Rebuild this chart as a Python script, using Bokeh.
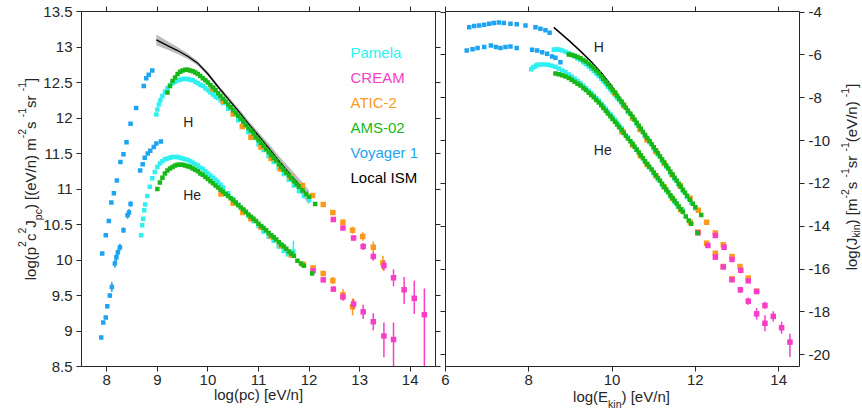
import math

from bokeh.embed import file_html
from bokeh.models import (CustomJSTickFormatter, FixedTicker, Label, LinearAxis,
                          Range1d)
from bokeh.plotting import figure
from bokeh.resources import INLINE

FONT = "Liberation Sans"
INK = "#262626"
C_PAMELA = "#2ff0f0"
C_CREAM = "#f83ec8"
C_ATIC = "#fb9a1c"
C_AMS = "#17b817"
C_VOY = "#1ea4f0"
C_ISM = "#000000"
C_BAND = "#bcbcbc"

# ---------------------------------------------------------------------------
# Left panel: x = log10(pc) [eV/n], y = log10(p^2 c^2 J_pc)
# ---------------------------------------------------------------------------
pc_voy_h = [7.91, 7.98, 8.04, 8.09, 8.14, 8.20, 8.27, 8.33, 8.39, 8.47,
            8.58, 8.73, 8.78, 8.83, 8.90]
f_voy_h = [10.09, 10.35, 10.55, 10.81, 10.94, 11.12, 11.38, 11.49, 11.66, 11.92,
           12.14, 12.45, 12.56, 12.61, 12.67]

pc_voy_he = [7.89, 7.93, 7.98, 8.01, 8.06, 8.10, 8.16, 8.19, 8.22, 8.26, 8.33,
             8.41, 8.44, 8.47, 8.66, 8.71, 8.75, 8.81, 8.86, 8.93, 8.98, 9.07]
f_voy_he = [8.91, 9.12, 9.19, 9.35, 9.50, 9.62, 9.95, 10.04, 10.11, 10.18, 10.42,
            10.63, 10.67, 10.79, 11.26, 11.35, 11.44, 11.50, 11.54, 11.59, 11.64, 11.67]
e_voy_he = [0.02, 0.02, 0.02, 0.03, 0.03, 0.07, 0.06, 0.06, 0.05, 0.05, 0.04,
            0.05, 0.05, 0.04, 0.02, 0.02, 0.02, 0.02, 0.02, 0.02, 0.02, 0.02]

pc_pam_h = [8.98, 9.00, 9.03, 9.06, 9.10, 9.15, 9.20, 9.25, 9.30, 9.35, 9.40, 9.45,
            9.50, 9.55, 9.60, 9.65, 9.70, 9.75, 9.80, 9.85, 9.90, 9.95, 10.00, 10.05,
            10.10, 10.15, 10.20, 10.25, 10.30, 10.40, 10.50, 10.60, 10.70, 10.80,
            10.90, 11.00, 11.10, 11.20, 11.30, 11.40, 11.50, 11.60, 11.70, 11.80,
            11.90, 12.00]
f_pam_h = [12.05, 12.12, 12.19, 12.25, 12.31, 12.37, 12.42, 12.46, 12.49, 12.51, 12.53,
           12.54, 12.55, 12.55, 12.55, 12.54, 12.53, 12.51, 12.49, 12.47, 12.45, 12.42,
           12.39, 12.36, 12.33, 12.30, 12.28, 12.25, 12.21, 12.13, 12.05, 11.97, 11.89,
           11.80, 11.72, 11.63, 11.55, 11.46, 11.38, 11.29, 11.21, 11.13, 11.05, 10.97,
           10.90, 10.84]

pc_pam_he = [8.68, 8.70, 8.72, 8.74, 8.76, 8.80, 8.85, 8.90, 8.95, 9.00, 9.05, 9.10,
             9.15, 9.20, 9.25, 9.30, 9.35, 9.40, 9.45, 9.50, 9.55, 9.60, 9.65, 9.70,
             9.75, 9.80, 9.85, 9.90, 9.95, 10.00, 10.05, 10.10, 10.15, 10.20, 10.25,
             10.30, 10.40, 10.50, 10.60, 10.70, 10.80, 10.90, 11.00, 11.10, 11.20,
             11.30, 11.40, 11.50, 11.58, 11.69]
f_pam_he = [10.35, 10.49, 10.58, 10.70, 10.78, 10.90, 11.03, 11.15, 11.24, 11.31,
            11.36, 11.39, 11.42, 11.43, 11.44, 11.45, 11.45, 11.45, 11.44, 11.43,
            11.42, 11.41, 11.39, 11.37, 11.35, 11.33, 11.30, 11.28, 11.25, 11.22,
            11.19, 11.16, 11.13, 11.10, 11.06, 11.02, 10.94, 10.86, 10.78, 10.70,
            10.62, 10.55, 10.48, 10.40, 10.33, 10.27, 10.19, 10.13, 10.08, 10.12]
pam_he_bar_pc = [11.69]
pam_he_bar_f = [10.12]
pam_he_bar_lo = [0.08]
pam_he_bar_hi = [0.15]

pc_ams_h = [9.20, 9.25, 9.30, 9.35, 9.40, 9.45, 9.50, 9.55, 9.60, 9.65, 9.70, 9.75,
            9.80, 9.85, 9.90, 9.95, 10.00, 10.05, 10.10, 10.15, 10.20, 10.25, 10.30,
            10.35, 10.40, 10.45, 10.50, 10.55, 10.60, 10.65, 10.70, 10.75, 10.80,
            10.85, 10.90, 10.95, 11.00, 11.05, 11.10, 11.15, 11.20, 11.25, 11.30,
            11.35, 11.40, 11.45, 11.50, 11.55, 11.60, 11.65, 11.70, 11.75, 11.80,
            11.87, 11.94, 12.00, 12.12]
f_ams_h = [12.36, 12.45, 12.52, 12.57, 12.62, 12.65, 12.67, 12.68, 12.68, 12.67,
           12.66, 12.64, 12.62, 12.59, 12.56, 12.53, 12.50, 12.46, 12.43, 12.39,
           12.35, 12.31, 12.27, 12.23, 12.19, 12.15, 12.11, 12.07, 12.03, 11.99,
           11.95, 11.90, 11.86, 11.82, 11.78, 11.73, 11.69, 11.65, 11.61, 11.56,
           11.52, 11.48, 11.44, 11.40, 11.35, 11.31, 11.27, 11.23, 11.19, 11.15,
           11.11, 11.07, 11.03, 10.98, 10.93, 10.89, 10.79]

pc_ams_he = [9.00, 9.05, 9.10, 9.15, 9.20, 9.25, 9.30, 9.35, 9.40, 9.45, 9.50, 9.55,
             9.60, 9.65, 9.70, 9.75, 9.80, 9.85, 9.90, 9.95, 10.00, 10.05, 10.10,
             10.15, 10.20, 10.25, 10.30, 10.35, 10.40, 10.45, 10.50, 10.55, 10.60,
             10.65, 10.70, 10.75, 10.80, 10.85, 10.90, 10.95, 11.00, 11.05, 11.10,
             11.15, 11.20, 11.25, 11.30, 11.35, 11.40, 11.45, 11.50, 11.55, 11.60,
             11.65, 11.70, 11.77, 11.84, 11.90, 12.06]
f_ams_he = [11.00, 11.09, 11.16, 11.22, 11.26, 11.29, 11.31, 11.33, 11.34, 11.34,
            11.34, 11.33, 11.32, 11.31, 11.29, 11.27, 11.25, 11.22, 11.20, 11.17,
            11.14, 11.11, 11.08, 11.05, 11.02, 10.99, 10.96, 10.93, 10.90, 10.87,
            10.84, 10.81, 10.77, 10.74, 10.71, 10.68, 10.64, 10.61, 10.58, 10.55,
            10.51, 10.48, 10.45, 10.42, 10.38, 10.35, 10.32, 10.29, 10.25, 10.22,
            10.19, 10.16, 10.12, 10.09, 10.06, 9.99, 9.95, 9.92, 9.81]

pc_atic_h = [10.10, 10.30, 10.50, 10.68, 10.85, 11.05, 11.25, 11.44, 11.64, 11.87,
             12.07, 12.28, 12.47, 12.67, 12.86, 13.06, 13.27, 13.46]
f_atic_h = [12.41, 12.24, 12.06, 11.88, 11.73, 11.59, 11.43, 11.28, 11.17, 11.05,
            10.91, 10.78, 10.67, 10.53, 10.42, 10.33, 10.18, 9.96]
e_atic_h = [0.02, 0.02, 0.02, 0.02, 0.02, 0.02, 0.02, 0.02, 0.02, 0.02,
            0.02, 0.03, 0.03, 0.04, 0.05, 0.06, 0.08, 0.10]

pc_atic_he = [10.26, 10.50, 10.69, 10.85, 11.05, 11.25, 11.45, 11.65, 11.88, 12.08,
              12.28, 12.47, 12.67, 12.86]
f_atic_he = [10.93, 10.80, 10.67, 10.58, 10.46, 10.33, 10.20, 10.07, 9.94, 9.89,
             9.81, 9.71, 9.51, 9.34]
e_atic_he = [0.02, 0.02, 0.02, 0.02, 0.02, 0.02, 0.02, 0.02, 0.02, 0.03,
             0.04, 0.05, 0.08, 0.12]

pc_cream_h = [12.48, 12.67, 12.88, 13.07, 13.27, 13.48, 13.67, 13.88, 14.08, 14.28]
f_cream_h = [10.57, 10.45, 10.31, 10.19, 10.05, 9.92, 9.75, 9.58, 9.46, 9.23]
lo_cream_h = [0.03, 0.03, 0.04, 0.05, 0.06, 0.07, 0.12, 0.20, 0.22, 0.80]
hi_cream_h = [0.03, 0.03, 0.04, 0.05, 0.06, 0.07, 0.12, 0.18, 0.25, 0.37]

pc_cream_he = [12.08, 12.28, 12.48, 12.67, 12.88, 13.07, 13.27, 13.48, 13.67]
f_cream_he = [9.85, 9.72, 9.59, 9.48, 9.38, 9.27, 9.13, 8.93, 8.88]
lo_cream_he = [0.03, 0.03, 0.04, 0.05, 0.07, 0.10, 0.12, 0.30, 0.50]
hi_cream_he = [0.03, 0.03, 0.04, 0.05, 0.07, 0.10, 0.12, 0.19, 0.24]

pc_ism = [8.98, 9.20, 9.40, 9.60, 9.80, 10.00, 10.20, 10.40, 10.60, 10.80, 11.00,
          11.20, 11.40, 11.60, 11.80, 12.00]
f_ism = [13.10, 13.02, 12.95, 12.87, 12.77, 12.62, 12.44, 12.27, 12.10, 11.92, 11.75,
         11.58, 11.40, 11.23, 11.06, 10.88]
w_ism = [0.075, 0.06, 0.05, 0.04, 0.03, 0.03, 0.03, 0.035, 0.04, 0.045, 0.05,
         0.06, 0.07, 0.08, 0.09, 0.10]

# ---------------------------------------------------------------------------
# Right panel: x = log10(E_kin) [eV/n], y = log10(J_kin)
# ---------------------------------------------------------------------------
ek_voy_h = [6.57, 6.69, 6.81, 6.93, 7.05, 7.16, 7.28, 7.40, 7.56, 7.71,
            7.92, 8.16, 8.28, 8.40, 8.50]
j_voy_h = [-4.70, -4.65, -4.62, -4.59, -4.54, -4.51, -4.48, -4.51, -4.54, -4.57,
           -4.62, -4.70, -4.78, -4.85, -4.96]

ek_voy_he = [6.51, 6.65, 6.77, 6.93, 7.09, 7.21, 7.32, 7.44, 7.56, 7.71,
             8.08, 8.20, 8.32, 8.44, 8.56, 8.64, 8.76]
j_voy_he = [-5.79, -5.73, -5.68, -5.63, -5.56, -5.63, -5.68, -5.63, -5.60, -5.68,
            -5.76, -5.79, -5.87, -5.94, -6.07, -6.13, -6.34]

ek_pam_h = [8.60, 8.64, 8.69, 8.74, 8.80, 8.88, 8.96, 9.03, 9.10, 9.17, 9.24, 9.31,
            9.37, 9.44, 9.50, 9.56, 9.62, 9.68, 9.74, 9.79, 9.85, 9.90, 9.96, 10.01,
            10.07, 10.12, 10.17, 10.23, 10.28, 10.38, 10.49, 10.59, 10.69, 10.79,
            10.90, 11.00, 11.10, 11.20, 11.30, 11.40, 11.50, 11.60, 11.70, 11.80,
            11.90, 12.00]
j_pam_h = [-5.76, -5.74, -5.75, -5.76, -5.79, -5.85, -5.92, -5.99, -6.07, -6.16,
           -6.24, -6.34, -6.43, -6.54, -6.64, -6.75, -6.86, -6.98, -7.11, -7.23,
           -7.35, -7.48, -7.61, -7.74, -7.87, -8.00, -8.12, -8.25, -8.39, -8.67,
           -8.95, -9.23, -9.51, -9.80, -10.08, -10.37, -10.65, -10.94, -11.22,
           -11.51, -11.79, -12.07, -12.35, -12.63, -12.90, -13.16]

ek_pam_he = [8.06, 8.10, 8.14, 8.18, 8.21, 8.29, 8.38, 8.47, 8.55, 8.64, 8.72, 8.80,
             8.88, 8.96, 9.03, 9.10, 9.17, 9.24, 9.31, 9.37, 9.44, 9.50, 9.56, 9.62,
             9.68, 9.74, 9.79, 9.85, 9.90, 9.96, 10.01, 10.07, 10.12, 10.17, 10.23,
             10.28, 10.38, 10.49, 10.59, 10.69, 10.79, 10.89, 11.00, 11.10, 11.20,
             11.30, 11.40, 11.50, 11.58, 11.69]
j_pam_he = [-6.67, -6.59, -6.55, -6.49, -6.46, -6.45, -6.45, -6.46, -6.50, -6.55,
            -6.63, -6.72, -6.80, -6.91, -7.01, -7.11, -7.22, -7.32, -7.44, -7.55,
            -7.67, -7.78, -7.90, -8.02, -8.14, -8.27, -8.40, -8.52, -8.65, -8.78,
            -8.91, -9.04, -9.17, -9.30, -9.44, -9.58, -9.86, -10.14, -10.42, -10.70,
            -10.98, -11.25, -11.52, -11.80, -12.07, -12.33, -12.61, -12.87, -13.08,
            -13.26]

ek_ams_h = [8.96, 9.03, 9.10, 9.17, 9.24, 9.31, 9.37, 9.44, 9.50, 9.56, 9.62, 9.68,
            9.74, 9.79, 9.85, 9.90, 9.96, 10.01, 10.07, 10.12, 10.17, 10.23, 10.28,
            10.33, 10.38, 10.44, 10.49, 10.54, 10.59, 10.64, 10.69, 10.74, 10.79,
            10.84, 10.90, 10.95, 11.00, 11.05, 11.10, 11.15, 11.20, 11.25, 11.30,
            11.35, 11.40, 11.45, 11.50, 11.55, 11.60, 11.65, 11.70, 11.75, 11.80,
            11.87, 11.94, 12.00, 12.14]
j_ams_h = [-5.98, -6.00, -6.04, -6.10, -6.15, -6.23, -6.31, -6.41, -6.51, -6.62,
           -6.73, -6.85, -6.98, -7.11, -7.24, -7.37, -7.50, -7.64, -7.77, -7.91,
           -8.05, -8.19, -8.33, -8.47, -8.61, -8.75, -8.89, -9.03, -9.17, -9.31,
           -9.45, -9.60, -9.74, -9.88, -10.02, -10.17, -10.31, -10.45, -10.59,
           -10.74, -10.88, -11.02, -11.16, -11.30, -11.45, -11.59, -11.73, -11.87,
           -12.01, -12.15, -12.29, -12.43, -12.57, -12.76, -12.95, -13.11, -13.47]

ek_ams_he = [8.64, 8.72, 8.80, 8.88, 8.96, 9.03, 9.10, 9.17, 9.24, 9.31, 9.37, 9.44,
             9.50, 9.56, 9.62, 9.68, 9.74, 9.79, 9.85, 9.90, 9.96, 10.01, 10.07,
             10.12, 10.17, 10.23, 10.28, 10.33, 10.38, 10.44, 10.49, 10.54, 10.59,
             10.64, 10.69, 10.74, 10.79, 10.84, 10.89, 10.95, 11.00, 11.05, 11.10,
             11.15, 11.20, 11.25, 11.30, 11.35, 11.40, 11.45, 11.50, 11.55, 11.60,
             11.65, 11.70, 11.77, 11.84, 11.90, 12.06]
j_ams_he = [-6.86, -6.90, -6.95, -7.00, -7.08, -7.16, -7.25, -7.34, -7.43, -7.54,
            -7.64, -7.76, -7.87, -7.98, -8.10, -8.22, -8.35, -8.48, -8.60, -8.73,
            -8.86, -8.99, -9.12, -9.25, -9.38, -9.51, -9.64, -9.77, -9.90, -10.03,
            -10.16, -10.29, -10.43, -10.56, -10.69, -10.82, -10.96, -11.09, -11.22,
            -11.35, -11.49, -11.62, -11.75, -11.88, -12.02, -12.15, -12.28, -12.41,
            -12.55, -12.68, -12.81, -12.94, -13.08, -13.21, -13.34, -13.55, -13.73,
            -13.88, -14.31]

ek_atic_h = [10.07, 10.28, 10.49, 10.67, 10.84, 11.05, 11.25, 11.44, 11.64, 11.87,
             12.07, 12.27, 12.48, 12.67, 12.88, 13.07, 13.27, 13.47]
j_atic_h = [-7.79, -8.36, -8.94, -9.48, -9.97, -10.51, -11.07, -11.60, -12.11, -12.69,
            -13.25, -13.81, -14.32, -14.86, -15.41, -15.88, -16.42, -17.03]
ej_atic_h = [0.02, 0.02, 0.02, 0.02, 0.02, 0.02, 0.02, 0.02, 0.02, 0.02,
             0.02, 0.03, 0.03, 0.04, 0.05, 0.06, 0.08, 0.10]

ek_atic_he = [10.24, 10.49, 10.68, 10.84, 11.05, 11.25, 11.45, 11.65, 11.88, 12.06,
              12.27, 12.48, 12.67, 12.88]
j_atic_he = [-9.59, -10.20, -10.71, -11.12, -11.64, -12.17, -12.70, -13.23, -13.81,
             -14.27, -14.79, -15.26, -15.88, -16.45]
ej_atic_he = [0.02, 0.02, 0.02, 0.02, 0.02, 0.02, 0.02, 0.02, 0.02, 0.03,
              0.04, 0.05, 0.08, 0.12]

ek_cream_h = [12.48, 12.69, 12.88, 13.09, 13.27, 13.47, 13.67, 13.87, 14.07, 14.27]
j_cream_h = [-14.43, -14.98, -15.55, -16.06, -16.55, -17.05, -17.70, -18.21, -18.74,
             -19.41]
jlo_cream_h = [0.03, 0.03, 0.04, 0.05, 0.06, 0.08, 0.17, 0.24, 0.28, 0.70]
jhi_cream_h = [0.03, 0.03, 0.04, 0.05, 0.06, 0.08, 0.17, 0.24, 0.28, 0.39]

ek_cream_he = [12.06, 12.30, 12.48, 12.67, 12.88, 13.08, 13.27, 13.47, 13.67]
j_cream_he = [-14.30, -14.90, -15.44, -15.90, -16.50, -16.97, -17.50, -18.09, -18.53]
ej_cream_he = [0.03, 0.03, 0.04, 0.06, 0.08, 0.14, 0.17, 0.27, 0.37]

ek_ism = [8.60, 8.96, 9.24, 9.50, 9.74, 9.96, 10.17, 10.38, 10.59, 10.79, 11.00,
          11.20, 11.40, 11.60, 11.80, 12.00]
j_ism = [-4.71, -5.32, -5.82, -6.32, -6.83, -7.38, -7.96, -8.53, -9.10, -9.68,
         -10.25, -10.82, -11.40, -11.97, -12.54, -13.12]

# tick positions
left_xticks = [8, 9, 10, 11, 12, 13, 14]
left_yticks = [8.5, 9, 9.5, 10, 10.5, 11, 11.5, 12, 12.5, 13, 13.5]
right_xticks = [6, 8, 10, 12, 14]
right_yticks = [-20, -18, -16, -14, -12, -10, -8, -6, -4]

legend_names = ["Pamela", "CREAM", "ATIC-2", "AMS-02", "Voyager 1", "Local ISM"]
legend_colors = [C_PAMELA, C_CREAM, C_ATIC, C_AMS, C_VOY, C_ISM]

# ---------------------------------------------------------------------------
# page geometry: one canvas, two plot boxes placed inside it (pixels)
# ---------------------------------------------------------------------------
W, H = 862, 413
BOX_TOP, BOX_H = 11, 355
L_LEFT, R_LEFT = 81, 445          # left edges of the two boxes
BOX_W = 354
LX, LY = (7.5, 14.5), (8.5, 13.5)
RX, RY = (6.0, 14.5), (-20.55, -3.97)


def canvas_range(lo, hi, px_lo, px_len, total, flip=False):
    """Range that spans the whole canvas so that [lo, hi] lands on the box."""
    per_px = (hi - lo) / px_len
    if not flip:
        start = lo - px_lo * per_px
        return start, start + total * per_px
    end = hi + px_lo * per_px
    return end - total * per_px, end


lxr = canvas_range(*LX, L_LEFT, BOX_W, W)
lyr = canvas_range(*LY, BOX_TOP, BOX_H, H, flip=True)
rxr = canvas_range(*RX, R_LEFT, BOX_W, W)
ryr = canvas_range(*RY, BOX_TOP, BOX_H, H, flip=True)


def px_to_left(gx, gy):
    x = lxr[0] + gx / W * (lxr[1] - lxr[0])
    y = lyr[1] - gy / H * (lyr[1] - lyr[0])
    return x, y


# Arial / Liberation Sans advance widths (per 1000 em)
ADV = {" ": 278, "(": 333, ")": 333, "[": 278, "]": 278, "/": 278, "-": 333,
       "1": 556, "2": 556, "a": 556, "c": 500, "e": 556, "g": 556, "i": 222,
       "k": 500, "l": 222, "m": 833, "n": 556, "o": 556, "p": 556, "r": 333,
       "s": 500, "E": 667, "J": 500, "V": 667}


def text_width(s, size):
    return sum(ADV.get(ch, 556) for ch in s) * size / 1000.0


p = figure(width=W, height=H, x_range=Range1d(*lxr), y_range=Range1d(*lyr),
           output_backend="svg", toolbar_location=None,
           x_axis_location=None, y_axis_location=None,
           min_border=0, min_border_left=0, min_border_right=0,
           min_border_top=0, min_border_bottom=0)
p.extra_x_ranges = {"r": Range1d(*rxr)}
p.extra_y_ranges = {"r": Range1d(*ryr)}
p.xgrid.visible = False
p.ygrid.visible = False
p.outline_line_color = None
p.background_fill_color = "white"
p.border_fill_color = "white"


def box_axis(side, loc, bounds, ticks, show_labels, rng=None):
    kw = {}
    if rng:
        kw = dict(x_range_name=rng, y_range_name=rng)
    ax = LinearAxis(fixed_location=loc, bounds=bounds, **kw)
    ax.ticker = FixedTicker(ticks=ticks)
    ax.formatter = CustomJSTickFormatter(code="return String(tick);")
    ax.axis_line_color = INK
    ax.axis_line_width = 1
    ax.major_tick_line_color = INK
    ax.major_tick_line_width = 1
    ax.major_tick_out = 5
    ax.major_tick_in = 0
    ax.minor_tick_line_color = None
    ax.minor_tick_out = 0
    ax.minor_tick_in = 0
    if show_labels:
        ax.major_label_text_font = FONT
        ax.major_label_text_font_size = "15px"
        ax.major_label_text_color = INK
        ax.major_label_standoff = 3 if side in ("below", "above") else 4
    else:
        ax.major_label_text_font_size = "0px"
        ax.major_label_text_color = None
        ax.major_label_standoff = 0
    p.add_layout(ax, side)


# left box
box_axis("below", LY[0], LX, left_xticks, True)
box_axis("above", LY[1], LX, left_xticks, False)
box_axis("left", LX[0], LY, left_yticks, True)
box_axis("right", LX[1], LY, left_yticks, False)
# right box
box_axis("below", RY[0], RX, right_xticks, True, "r")
box_axis("above", RY[1], RX, right_xticks, False, "r")
box_axis("left", RX[0], RY, right_yticks, False, "r")
box_axis("right", RX[1], RY, right_yticks, True, "r")


def markers(xs, ys, color, size, rng=None):
    kw = dict(x_range_name=rng, y_range_name=rng) if rng else {}
    p.scatter(x=xs, y=ys, marker="square", size=size, fill_color=color,
              line_color=None, **kw)


def errbars(xs, ys, lo, hi, color, floor, rng=None):
    kw = dict(x_range_name=rng, y_range_name=rng) if rng else {}
    p.segment(x0=xs, y0=[max(y - d, floor) for y, d in zip(ys, lo)],
              x1=xs, y1=[y + d for y, d in zip(ys, hi)],
              line_color=color, line_width=1.5, **kw)


def label(gx, gy, text, size, color=INK, align="left", angle=0.0):
    x, y = px_to_left(gx, gy)
    p.add_layout(Label(x=x, y=y, text=text, angle=angle, text_font=FONT,
                       text_font_size=f"{size}px", text_color=color,
                       text_align=align, text_baseline="alphabetic"))


def rich_vertical(pieces, base_x, center_y, main=15, small=10.5, sup=8, sub=7):
    total = sum(text_width(t, main if k == "n" else small) for t, k in pieces)
    gy = center_y + total / 2
    for t, k in pieces:
        size = main if k == "n" else small
        off = {"n": 0, "sup": -sup, "sub": sub}[k]
        label(base_x + off, gy, t, size, angle=math.pi / 2)
        gy -= text_width(t, size)


def rich_horizontal(pieces, center_x, base_y, main=15, small=10.5, sup=8, sub=8):
    total = sum(text_width(t, main if k == "n" else small) for t, k in pieces)
    gx = center_x - total / 2
    for t, k in pieces:
        size = main if k == "n" else small
        off = {"n": 0, "sup": -sup, "sub": sub}[k]
        label(gx, base_y + off, t, size)
        gx += text_width(t, size)


# ---------------------------------------------------------------------------
# left panel: p^2 c^2 J versus pc
# ---------------------------------------------------------------------------
p.varea(x=pc_ism, y1=[f - w for f, w in zip(f_ism, w_ism)],
        y2=[f + w for f, w in zip(f_ism, w_ism)], fill_color=C_BAND, fill_alpha=1.0)
p.line(x=pc_ism, y=f_ism, line_color=C_ISM, line_width=1.3)

errbars(pc_voy_he, f_voy_he, e_voy_he, e_voy_he, C_VOY, LY[0])
markers(pc_voy_h, f_voy_h, C_VOY, 4.5)
markers(pc_voy_he, f_voy_he, C_VOY, 4.5)

errbars(pam_he_bar_pc, pam_he_bar_f, pam_he_bar_lo, pam_he_bar_hi, C_PAMELA, LY[0])
markers(pc_pam_h, f_pam_h, C_PAMELA, 4.5)
markers(pc_pam_he, f_pam_he, C_PAMELA, 4.5)

errbars(pc_atic_h, f_atic_h, e_atic_h, e_atic_h, C_ATIC, LY[0])
errbars(pc_atic_he, f_atic_he, e_atic_he, e_atic_he, C_ATIC, LY[0])
markers(pc_atic_h, f_atic_h, C_ATIC, 5.5)
markers(pc_atic_he, f_atic_he, C_ATIC, 5.5)

errbars(pc_cream_h, f_cream_h, lo_cream_h, hi_cream_h, C_CREAM, LY[0])
errbars(pc_cream_he, f_cream_he, lo_cream_he, hi_cream_he, C_CREAM, LY[0])
markers(pc_cream_h, f_cream_h, C_CREAM, 5.5)
markers(pc_cream_he, f_cream_he, C_CREAM, 5.5)

markers(pc_ams_h, f_ams_h, C_AMS, 4.5)
markers(pc_ams_he, f_ams_he, C_AMS, 4.5)

label(182.7, 121.7, "H", 14)
label(182.7, 194.0, "He", 14)

for i, (name, col) in enumerate(zip(legend_names, legend_colors)):
    label(350, 51.5 + 25 * i, name, 15, color=col)

rich_vertical([("log(p", "n"), ("2", "sup"), ("c", "n"), ("2", "sup"), ("J", "n"),
               ("pc", "sub"), (") [(eV/n) m", "n"), ("-2", "sup"), (" s", "n"),
               ("-1", "sup"), (" sr", "n"), ("-1", "sup"), ("]", "n")],
              base_x=29.5, center_y=178.5, sup=8.5, sub=7.5)
label(258, 393.5, "log(pc) [eV/n]", 15, align="center")

# ---------------------------------------------------------------------------
# right panel: J versus kinetic energy
# ---------------------------------------------------------------------------
p.line(x=ek_ism, y=j_ism, line_color=C_ISM, line_width=1.5,
       x_range_name="r", y_range_name="r")

markers(ek_voy_h, j_voy_h, C_VOY, 4.5, "r")
markers(ek_voy_he, j_voy_he, C_VOY, 4.5, "r")

markers(ek_pam_h, j_pam_h, C_PAMELA, 4.5, "r")
markers(ek_pam_he, j_pam_he, C_PAMELA, 4.5, "r")

errbars(ek_atic_h, j_atic_h, ej_atic_h, ej_atic_h, C_ATIC, RY[0], "r")
errbars(ek_atic_he, j_atic_he, ej_atic_he, ej_atic_he, C_ATIC, RY[0], "r")
markers(ek_atic_h, j_atic_h, C_ATIC, 5.5, "r")
markers(ek_atic_he, j_atic_he, C_ATIC, 5.5, "r")

errbars(ek_cream_h, j_cream_h, jlo_cream_h, jhi_cream_h, C_CREAM, RY[0], "r")
errbars(ek_cream_he, j_cream_he, ej_cream_he, ej_cream_he, C_CREAM, RY[0], "r")
markers(ek_cream_h, j_cream_h, C_CREAM, 5.5, "r")
markers(ek_cream_he, j_cream_he, C_CREAM, 5.5, "r")

markers(ek_ams_h, j_ams_h, C_AMS, 4.5, "r")
markers(ek_ams_he, j_ams_he, C_AMS, 4.5, "r")

label(593.3, 46.7, "H", 14)
label(593.3, 149.0, "He", 14)

rich_vertical([("log(J", "n"), ("kin", "sub"), (") [m", "n"), ("-2", "sup"),
               (" s", "n"), ("-1", "sup"), (" sr", "n"), ("-1", "sup"),
               (" (eV/n)", "n"), ("-1", "sup"), ("]", "n")],
              base_x=851, center_y=176.5, sup=7, sub=4.5)
rich_horizontal([("log(E", "n"), ("kin", "sub"), (") [eV/n]", "n")],
                center_x=621, base_y=395.5, sub=8)

open("out.html", "w").write(file_html(p, INLINE))
